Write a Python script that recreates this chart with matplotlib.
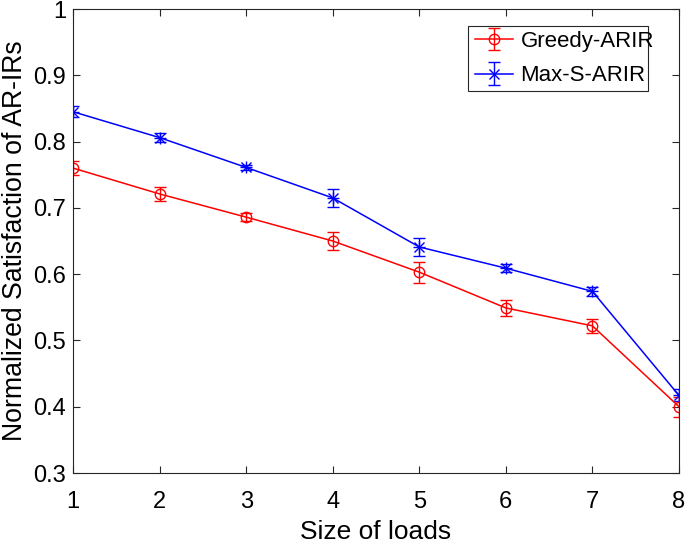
import matplotlib
matplotlib.use("Agg")
import matplotlib.pyplot as plt
from matplotlib.patches import Rectangle

plt.rcParams['font.family'] = ['Liberation Sans', 'DejaVu Sans']

x = [1, 2, 3, 4, 5, 6, 7, 8]
greedy = [0.760, 0.721, 0.686, 0.650, 0.603, 0.549, 0.522, 0.400]
greedy_err = [0.010, 0.010, 0.006, 0.014, 0.016, 0.012, 0.011, 0.015]
maxs = [0.845, 0.806, 0.761, 0.715, 0.641, 0.609, 0.574, 0.417]
maxs_err = [0.008, 0.007, 0.004, 0.013, 0.013, 0.006, 0.007, 0.009]
xticks = [1, 2, 3, 4, 5, 6, 7, 8]
yticks = [0.3, 0.4, 0.5, 0.6, 0.7, 0.8, 0.9, 1.0]
yticklabels = ['0.3', '0.4', '0.5', '0.6', '0.7', '0.8', '0.9', '1']

W, H = 685, 544
fig = plt.figure(figsize=(W/100, H/100), dpi=100)
ax = fig.add_axes([73/W, 1 - 473/H, (679-73)/W, (473-9)/H])

ax.errorbar(x, greedy, yerr=greedy_err, color='#ff0000', marker='o', markersize=7.5,
            markerfacecolor='none', markeredgewidth=1.0, linewidth=1.1, capsize=4,
            elinewidth=1.0, capthick=1.0, label='Greedy-ARIR')
ax.errorbar(x, maxs, yerr=maxs_err, color='#0000ff', marker='x', markersize=7,
            markeredgewidth=1.0, linewidth=1.1, capsize=4, elinewidth=1.0, capthick=1.0,
            label='Max-S-ARIR')
ax.plot(x, maxs, linestyle='none', marker='+', markersize=8.5, color='#0000ff', markeredgewidth=1.0)

ax.set_xlim(1, 8)
ax.set_ylim(0.3, 1.0)
ax.set_xticks(xticks)
ax.set_yticks(yticks)
ax.set_yticklabels(yticklabels)
ax.tick_params(direction='in', top=True, right=True, length=5, width=0.8,
               colors='#262626', labelcolor='black')
ax.tick_params(axis='x', labelsize=17, pad=13)
ax.tick_params(axis='y', labelsize=17, pad=5)
for s in ax.spines.values():
    s.set_color('#262626')
    s.set_linewidth(0.8)

ax.set_xlabel('Size of loads', fontsize=19, labelpad=5)
ax.set_ylabel('Normalized Satisfaction of AR-IRs', fontsize=19.2, labelpad=4)

# legend frame drawn separately, legend content frameless
ax.add_patch(Rectangle((468/W, 1 - 91/H), (648-468)/W, (91-26)/H,
                       transform=fig.transFigure, facecolor='white', clip_on=False,
                       edgecolor='#262626', linewidth=0.8, zorder=5))
leg = ax.legend(loc='upper left', bbox_to_anchor=(475/W, 1 - 31/H), bbox_transform=fig.transFigure,
                fontsize=16, frameon=False,
                handlelength=1.7, borderpad=0, labelspacing=0.6, handletextpad=0.35,
                borderaxespad=0)
leg.set_zorder(6)

fig.savefig('out.png', dpi=100)
